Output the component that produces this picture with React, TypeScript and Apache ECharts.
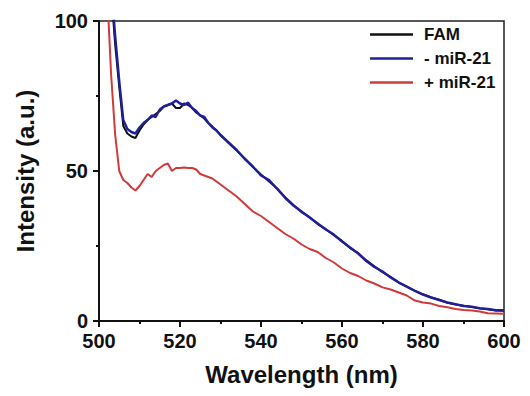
import React, { useEffect, useRef } from "react";
import * as echarts from "echarts";

const wavelengths = [
  502, 503, 504, 505, 506, 507, 508, 509, 510, 511, 512, 513, 514, 515, 516,
  517, 518, 519, 520, 521, 522, 523, 524, 525, 526, 527, 528, 529, 530, 532,
  534, 536, 538, 540, 542, 544, 546, 548, 550, 552, 554, 556, 558, 560, 562,
  564, 566, 568, 570, 572, 574, 576, 578, 580, 582, 584, 586, 588, 590, 592,
  594, 596, 598, 600,
];

const famValues = [
  140, 110, 92, 78, 65, 62.5, 61.5, 61, 63.5, 65.5, 67, 68, 69, 70, 71.5,
  72, 72.5, 71, 71, 72.5, 72, 71, 69.5, 68.5, 67.5, 66, 64.8, 63.5, 62, 59.3,
  56.8, 54.2, 51.3, 48.8, 46.5, 44.2, 41.2, 38.7, 36.3, 34.6, 32.3, 30.6, 28.6, 26.7, 24.3,
  22.6, 20.2, 18.2, 16.3, 14.7, 12.9, 11.4, 10.1, 8.9, 7.9, 7.1, 6.1, 5.5, 5.1, 4.7,
  4.2, 3.9, 3.5, 3.4,
];

const minusMiRValues = [
  140, 112, 95, 80, 67, 64, 63, 62.5, 64.5, 66, 67, 68.5, 68, 70.5, 71.5,
  72, 72.5, 73.5, 72.5, 72, 72.8, 71, 70, 68.5, 68, 66, 64.5, 63.5, 62, 59.5,
  57, 54, 51.5, 48.5, 47, 44, 41, 38.5, 36.5, 34.5, 32.5, 30.5, 28.8, 26.5, 24.5,
  22.5, 20, 18, 16.5, 14.5, 12.8, 11.5, 10, 8.8, 7.8, 7, 6.2, 5.6, 5, 4.8,
  4.3, 4, 3.6, 3.6,
];

const plusMiRValues = [
  110, 82, 62, 50, 47, 46, 44.5, 43.5, 45, 47, 49, 48, 50, 51, 52,
  52.5, 50, 51, 51, 51.2, 51, 51, 50.5, 49, 48.5, 48, 47.5, 46.5, 45.5, 43.5,
  41.5, 39, 36.5, 35, 33, 31, 29, 27.5, 25.5, 24, 23, 21, 19.5, 17.5, 16,
  15, 13.5, 12.5, 11.2, 10.5, 9.5, 8.5, 6.8, 6.2, 5.8, 5, 4.6, 4, 3.7, 3.5,
  3.2, 2.6, 2.5, 2.4,
];

const seriesNames = ["FAM", "- miR-21", "+ miR-21"];
const seriesColors = ["#111111", "#1f1f9e", "#d03a3a"];

const FONT = "'Liberation Sans', Arial, sans-serif";

export default function App() {
  const ref = useRef<HTMLDivElement>(null);

  useEffect(() => {
    document.body.style.margin = "0";
    if (!ref.current) return;
    const chart = echarts.init(ref.current, undefined, { renderer: "svg" });
    const allValues = [famValues, minusMiRValues, plusMiRValues];
    chart.setOption({
      animation: false,
      backgroundColor: "#ffffff",
      grid: {
        left: 99,
        right: 26,
        top: 21,
        bottom: 75,
        containLabel: false,
        show: true,
        borderColor: "#222",
        borderWidth: 1.5,
        backgroundColor: "transparent",
      },
      legend: {
        orient: "vertical",
        left: 365,
        top: 21,
        itemWidth: 43,
        itemHeight: 2.5,
        itemGap: 7,
        icon: "rect",
        data: seriesNames,
        textStyle: {
          fontFamily: FONT,
          fontWeight: "bold",
          fontSize: 17,
          lineHeight: 17,
          color: "#111",
          padding: [0, 0, 0, 6],
        },
      },
      xAxis: {
        type: "value",
        min: 500,
        max: 600,
        interval: 20,
        name: "Wavelength (nm)",
        nameLocation: "middle",
        nameGap: 41,
        nameTextStyle: {
          fontFamily: FONT,
          fontWeight: "bold",
          fontSize: 24,
          color: "#111",
        },
        axisLine: { onZero: false, lineStyle: { color: "#111", width: 2 } },
        axisTick: { show: true, length: 6, lineStyle: { color: "#111", width: 2 } },
        minorTick: { show: true, splitNumber: 2, length: 3, lineStyle: { color: "#111", width: 2 } },
        splitLine: { show: false },
        axisLabel: {
          margin: 10,
          fontFamily: FONT,
          fontWeight: "bold",
          fontSize: 20,
          color: "#111",
        },
      },
      yAxis: {
        type: "value",
        min: 0,
        max: 100,
        interval: 50,
        name: "Intensity (a.u.)",
        nameLocation: "middle",
        nameGap: 62,
        nameTextStyle: {
          fontFamily: FONT,
          fontWeight: "bold",
          fontSize: 24,
          color: "#111",
        },
        axisLine: { show: true, onZero: false, lineStyle: { color: "#111", width: 2 } },
        axisTick: { show: true, length: 6, lineStyle: { color: "#111", width: 2 } },
        minorTick: { show: true, splitNumber: 2, length: 3, lineStyle: { color: "#111", width: 2 } },
        splitLine: { show: false },
        axisLabel: {
          margin: 11,
          fontFamily: FONT,
          fontWeight: "bold",
          fontSize: 20,
          color: "#111",
        },
      },
      series: seriesNames.map((name, i) => ({
        name,
        type: "line",
        showSymbol: false,
        symbol: "none",
        clip: true,
        color: seriesColors[i],
        lineStyle: { color: seriesColors[i], width: i === 1 ? 2.4 : 2 },
        data: wavelengths.map((w, j) => [w, allValues[i][j]]),
      })),
    });
    return () => chart.dispose();
  }, []);

  return <div ref={ref} style={{ width: 530, height: 396 }} />;
}
